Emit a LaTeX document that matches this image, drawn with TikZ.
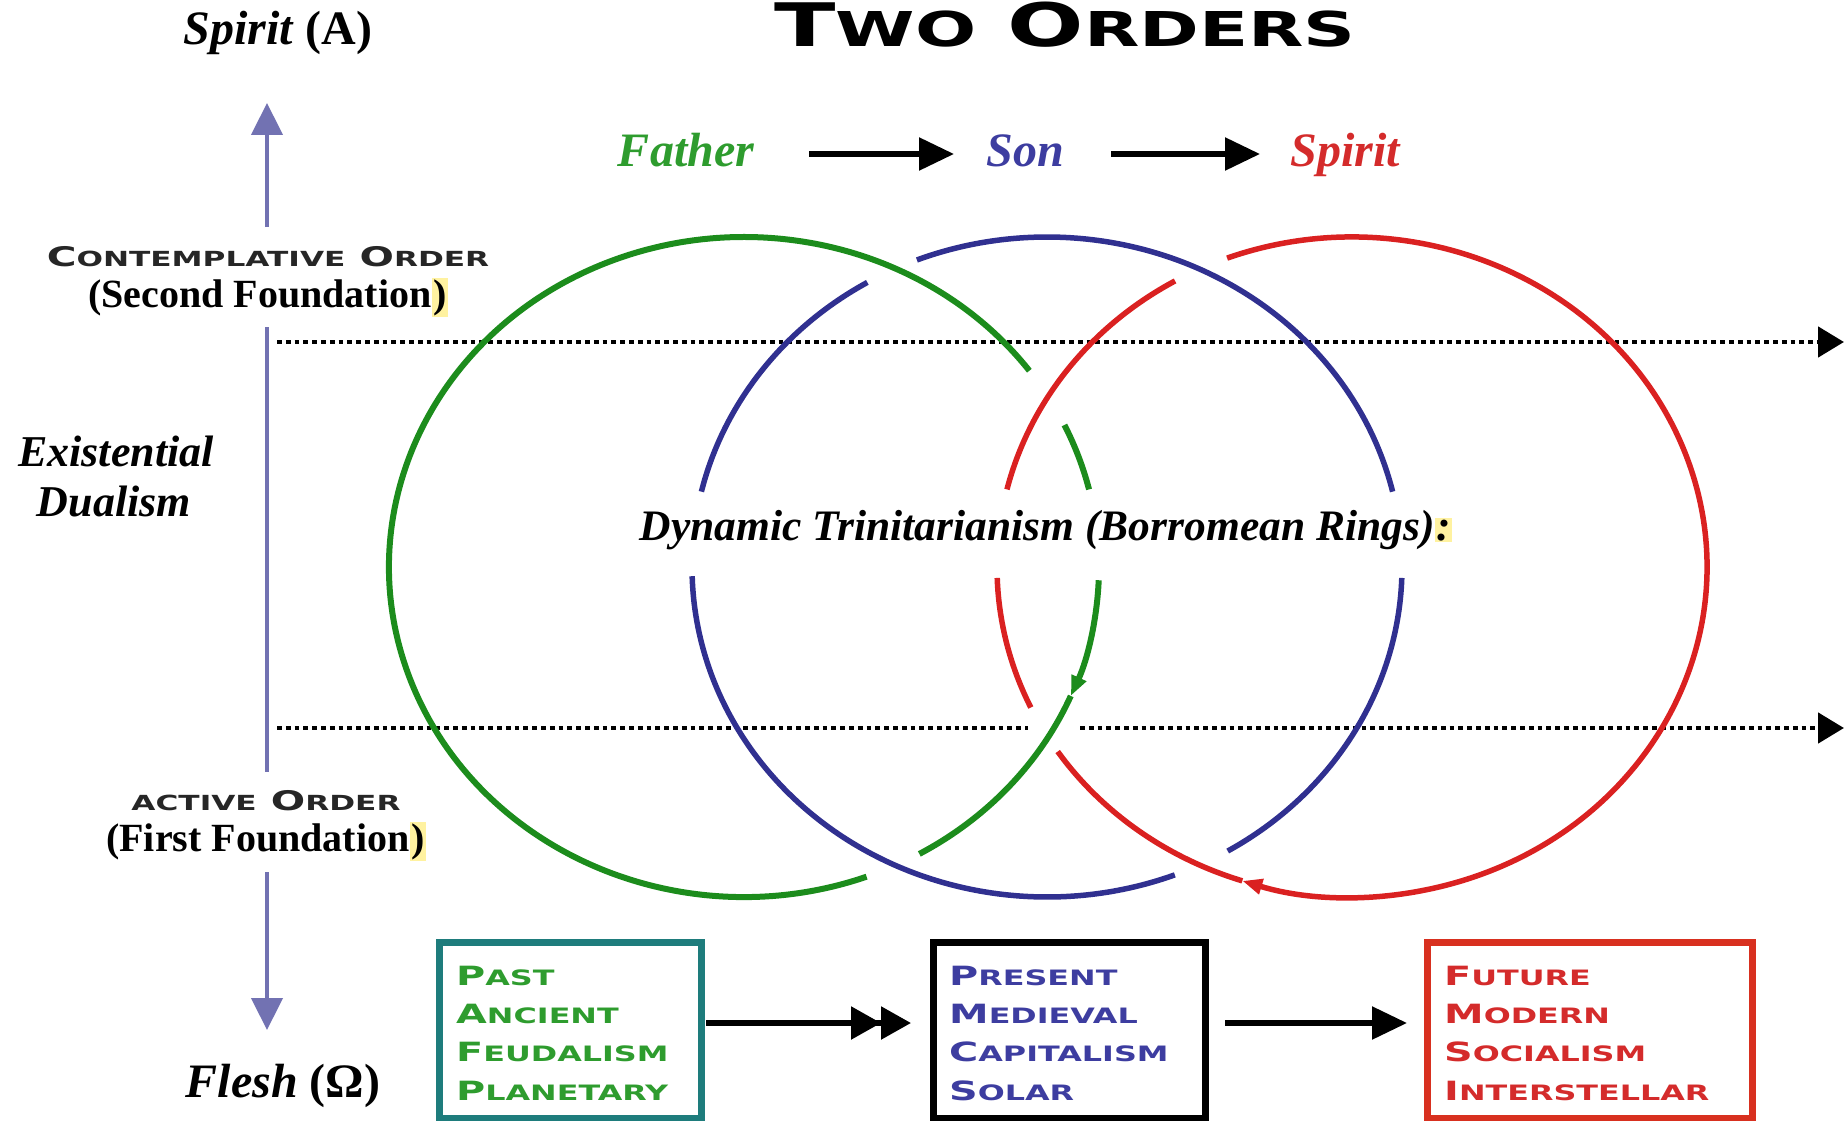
\documentclass[tikz,border=0pt]{standalone}
\usepackage{fontspec}
\usepackage{graphicx}
\setmainfont{Liberation Serif}
\newfontfamily\copfont[FakeStretch=1.5]{DejaVu Sans}
\usetikzlibrary{arrows.meta}
\definecolor{ringG}{HTML}{1C8C1C}
\definecolor{ringB}{HTML}{303090}
\definecolor{ringR}{HTML}{DA2121}
\definecolor{txtG}{HTML}{2E9C2E}
\definecolor{txtB}{HTML}{3D3DA0}
\definecolor{txtR}{HTML}{D42B2B}
\definecolor{boxT}{HTML}{1E7C7C}
\definecolor{boxR}{HTML}{D8301F}
\definecolor{axisC}{HTML}{7272B2}
\definecolor{hlY}{HTML}{FFF2A0}
\newcommand\smc[2][0.77]{\scalebox{#1}{#2}}
\newcommand\bsm[1]{\scalebox{0.8}{#1}}
\newcommand\hlt[1]{{\setlength{\fboxsep}{1.5pt}\colorbox{hlY}{#1}}}
\newcommand\ringarc[4]{\draw[#1,shift={(#2,567)}] (#3:355 and 330) arc[start angle=#3,end angle=#4,x radius=355,y radius=330];}
\begin{document}
\begin{tikzpicture}[x=1pt,y=-1pt,
  ital/.style={font=\fontsize{48}{56}\selectfont\bfseries\itshape, inner sep=0pt, anchor=base},
  itals/.style={font=\fontsize{44}{50}\selectfont\bfseries\itshape, inner sep=0pt, anchor=base},
  rom/.style={font=\fontsize{40}{46}\selectfont\bfseries, inner sep=0pt, anchor=base},
  coplbl/.style={font=\copfont\bfseries\fontsize{27}{30}\selectfont, text=black!85, inner sep=0pt, anchor=base},
  boxtxt/.style={font=\copfont\bfseries\fontsize{26.5}{30}\selectfont, inner sep=0pt, anchor=base west},
  axisln/.style={draw=axisC, line width=4.5pt},
  blkarrow/.style={line width=5.5pt, -{Triangle[length=35pt,width=32pt]}},
  dotln/.style={line width=4.8pt, dash pattern=on 4.8pt off 4pt},
  gring/.style={draw=ringG, line width=6pt},
  bring/.style={draw=ringB, line width=5.5pt},
  rring/.style={draw=ringR, line width=5.5pt},
  agebox/.style={line width=7pt, minimum height=176pt, inner sep=0pt}
]
\useasboundingbox (0,0) rectangle (1844,1121);

% title
\node[font=\copfont\bfseries\fontsize{60}{60}\selectfont, inner sep=0pt, anchor=base] (title) at (1065,47) {T\smc[0.8]{WO} O\smc[0.8]{RDERS}};

% left axis labels
\node[ital] (spiritA) at (278,45) {Spirit \textup{(A)}};
\node[coplbl] (contemp) at (268,266) {C\smc{ONTEMPLATIVE} O\smc{RDER}};
\node[rom] (secondF) at (268,307) {(Second Foundation\hlt{)}};
\node[itals] (exist) at (116,466) {Existential};
\node[itals] (dual) at (114,516) {Dualism};
\node[coplbl] (active) at (266,810) {\smc{ACTIVE} O\smc{RDER}};
\node[rom] (firstF) at (266,851) {(First Foundation\hlt{)}};
\node[ital] (flesh) at (283,1097) {Flesh \textup{(Ω)}};

% axis
\coordinate (upTip) at (267,103);
\coordinate (upBase) at (267,227);
\coordinate (axTop) at (267,327);
\coordinate (axBot) at (267,772);
\coordinate (dnBase) at (267,872);
\coordinate (dnTip) at (267,1030);
\draw[axisln, -{Triangle[length=32pt,width=31pt]}] (upBase) -- (upTip);
\draw[axisln] (axTop) -- (axBot);
\draw[axisln, -{Triangle[length=32pt,width=31pt]}] (dnBase) -- (dnTip);

% Father Son Spirit
\node[ital, text=txtG] (father) at (686,167) {Father};
\node[ital, text=txtB] (son) at (1025,167) {Son};
\node[ital, text=txtR] (spiritT) at (1345,167) {Spirit};
\coordinate (fa) at (809,154);
\coordinate (fb) at (954,154);
\coordinate (sa) at (1111,154);
\coordinate (sb) at (1260,154);
\draw[blkarrow] (fa) -- (fb);
\draw[blkarrow] (sa) -- (sb);

% dotted lines
\coordinate (d1a) at (277,342);
\coordinate (d1b) at (1844,342);
\coordinate (d2a) at (277,728);
\coordinate (d2g1) at (1028,728);
\coordinate (d2g2) at (1080,728);
\coordinate (d2b) at (1844,728);
\draw[dotln, -{Triangle[length=26pt,width=30pt]}] (d1a) -- (d1b);
\draw[dotln] (d2a) -- (d2g1);
\draw[dotln, -{Triangle[length=26pt,width=30pt]}] (d2g2) -- (d2b);

% rings
\ringarc{gring,-{Triangle[length=20pt,width=15pt]}}{744}{2.3}{23}
\ringarc{gring}{744}{23}{60.4}
\ringarc{gring}{744}{69.8}{323.5}
\ringarc{gring}{744}{334.5}{346.4}

\ringarc{bring}{1047}{1.9}{59.4}
\ringarc{bring}{1047}{68.9}{178.4}
\ringarc{bring}{1047}{193.2}{239.6}
\ringarc{bring}{1047}{248.5}{346.8}

\ringarc{rring,-{Triangle[length=20pt,width=15pt]}}{1352}{249.4}{468}
\ringarc{rring}{1352}{468}{506}
\ringarc{rring}{1352}{154.8}{178.1}
\ringarc{rring}{1352}{193.6}{240.1}

\node[itals, font=\fontsize{43.5}{50}\selectfont\bfseries\itshape] (dyn) at (1046,540) {Dynamic Trinitarianism (Borromean Rings)\hlt{:}};

% boxes
\node[agebox, draw=boxT, minimum width=262pt] (past) at (570,1030) {};
\node[agebox, draw=black, minimum width=272pt] (present) at (1069,1030) {};
\node[agebox, draw=boxR, minimum width=325pt] (future) at (1589.5,1030) {};

\node[boxtxt, text=txtG] (p1) at (456,985) {P\bsm{AST}};
\node[boxtxt, text=txtG] (p2) at (456,1023.3) {A\bsm{NCIENT}};
\node[boxtxt, text=txtG] (p3) at (456,1061.7) {F\bsm{EUDALISM}};
\node[boxtxt, text=txtG] (p4) at (456,1100) {P\bsm{LANETARY}};

\node[boxtxt, text=txtB] (q1) at (949,985) {P\bsm{RESENT}};
\node[boxtxt, text=txtB] (q2) at (949,1023.3) {M\bsm{EDIEVAL}};
\node[boxtxt, text=txtB] (q3) at (949,1061.7) {C\bsm{APITALISM}};
\node[boxtxt, text=txtB] (q4) at (949,1100) {S\bsm{OLAR}};

\node[boxtxt, text=txtR] (r1) at (1444,985) {F\bsm{UTURE}};
\node[boxtxt, text=txtR] (r2) at (1444,1023.3) {M\bsm{ODERN}};
\node[boxtxt, text=txtR] (r3) at (1444,1061.7) {S\bsm{OCIALISM}};
\node[boxtxt, text=txtR] (r4) at (1444,1100) {I\bsm{NTERSTELLAR}};

\coordinate (b1a) at (706,1023);
\coordinate (b1b) at (911,1023);
\coordinate (b2a) at (1225,1023);
\coordinate (b2b) at (1407,1023);
\draw[line width=5.5pt, -{Triangle[length=30pt,width=32pt]Triangle[length=30pt,width=32pt]}] (b1a) -- (b1b);
\draw[blkarrow] (b2a) -- (b2b);
\end{tikzpicture}
\end{document}
